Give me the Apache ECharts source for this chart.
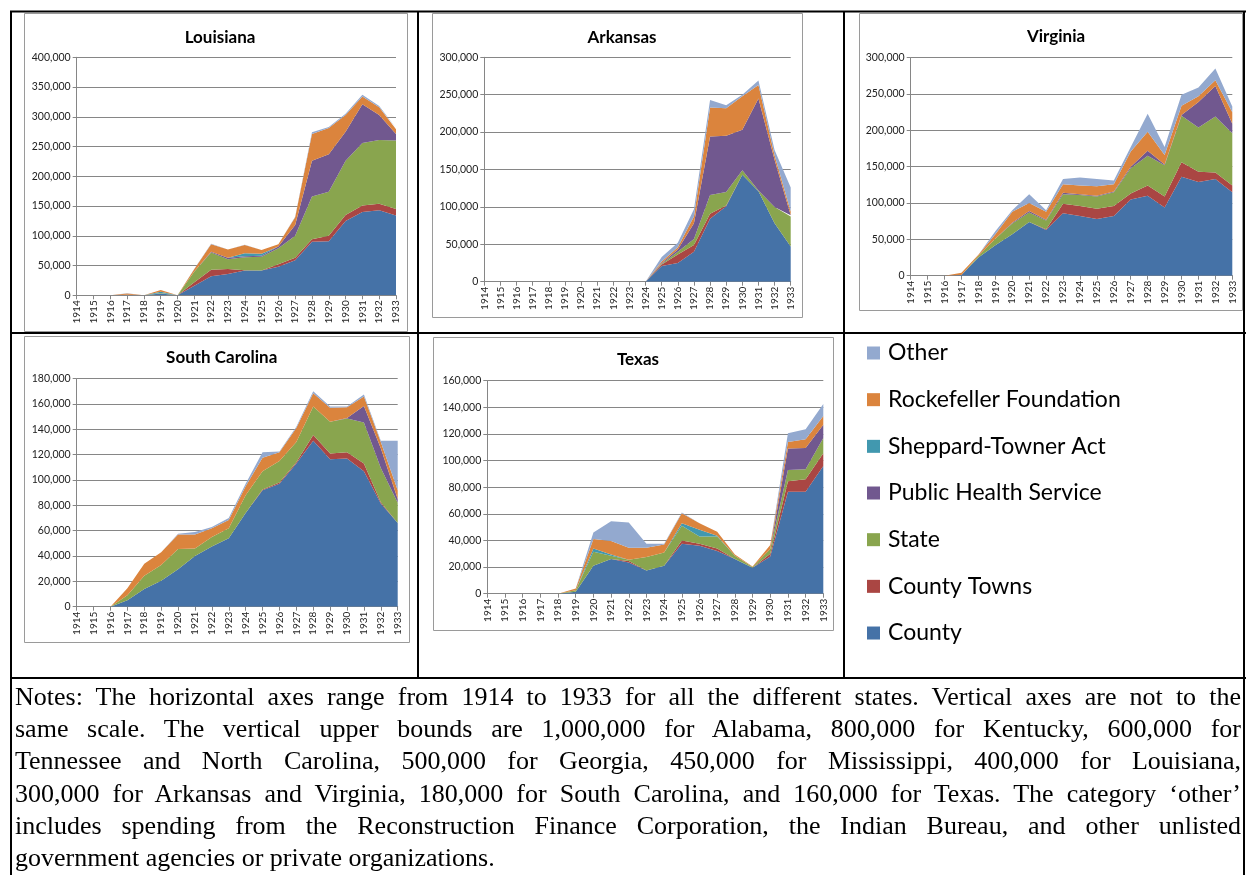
<!DOCTYPE html>
<html>
<head>
<meta charset="utf-8">
<script src="https://cdn.jsdelivr.net/npm/echarts@6/dist/echarts.min.js"></script>
<style>
  html, body { margin: 0; padding: 0; background: #fff; }
  #wrap { position: relative; width: 1246px; height: 875px; overflow: hidden; }
  #chart { position: absolute; left: 0; top: 0; width: 1246px; height: 875px; }
  #notes {
    position: absolute; left: 15px; top: 681px; width: 1226px;
    font-family: "Liberation Serif", serif; font-size: 26px; line-height: 32.2px; color: #000;
  }
  #notes div { text-align: justify; text-align-last: justify; white-space: nowrap; }
  #notes div.last { text-align-last: left; }
</style>
</head>
<body>
<div id="wrap">
  <div id="chart"></div>
  <div id="notes">
    <div>Notes: The horizontal axes range from 1914 to 1933 for all the different states. Vertical axes are not to the</div>
    <div>same scale. The vertical upper bounds are 1,000,000 for Alabama, 800,000 for Kentucky, 600,000 for</div>
    <div>Tennessee and North Carolina, 500,000 for Georgia, 450,000 for Mississippi, 400,000 for Louisiana,</div>
    <div>300,000 for Arkansas and Virginia, 180,000 for South Carolina, and 160,000 for Texas. The category ‘other’</div>
    <div>includes spending from the Reconstruction Finance Corporation, the Indian Bureau, and other unlisted</div>
    <div class="last">government agencies or private organizations.</div>
  </div>
</div>
<script>
// years on every horizontal axis
const years = ['1914', '1915', '1916', '1917', '1918', '1919', '1920', '1921', '1922', '1923',
  '1924', '1925', '1926', '1927', '1928', '1929', '1930', '1931', '1932', '1933'];

// stacking order, bottom to top
const sourceNames = ['County', 'County Towns', 'State', 'Public Health Service',
  'Sheppard-Towner Act', 'Rockefeller Foundation', 'Other'];
const sourceColors = ['#4572A7', '#AA4643', '#89A54E', '#71588F', '#4198AF', '#DB843D', '#93A9CF'];

// Louisiana
const laCounty = [0, 0, 0, 1000, 0, 3000, 0, 16000, 32000, 36000, 41500, 41500, 48000, 59000, 90000, 91000, 125000, 140000, 143000, 134000];
const laCountyTowns = [0, 0, 0, 0, 0, 0, 0, 6000, 11000, 8000, 500, 0, 4000, 4000, 4000, 9000, 10000, 11000, 11000, 11000];
const laState = [0, 0, 0, 0, 0, 1000, 0, 18000, 29000, 16500, 22000, 23500, 27000, 37000, 72000, 74000, 91000, 105000, 107000, 115000];
const laPHS = [0, 0, 0, 0, 0, 0, 0, 0, 1000, 2500, 1500, 1500, 3000, 18000, 60000, 63000, 49000, 65000, 42000, 11000];
const laSheppard = [0, 0, 0, 0, 0, 2000, 0, 0, 0, 0, 5000, 3500, 0, 0, 0, 0, 0, 0, 0, 0];
const laRockefeller = [0, 0, 0, 2000, 0, 3000, 0, 4000, 13000, 14000, 14000, 6000, 4000, 13000, 45000, 44000, 28000, 13000, 13000, 8000];
const laOther = [0, 0, 0, 500, 0, 0, 0, 500, 500, 0, 500, 0, 0, 1000, 3000, 2000, 2000, 3000, 2000, 2000];

// Arkansas
const arCounty = [0, 0, 0, 0, 0, 0, 0, 0, 0, 0, 0, 21000, 25000, 40000, 84000, 101000, 143000, 121000, 78000, 47000];
const arCountyTowns = [0, 0, 0, 0, 0, 0, 0, 0, 0, 0, 0, 2000, 11500, 9000, 7000, 1000, 0, 0, 0, 0];
const arState = [0, 0, 0, 0, 0, 0, 0, 0, 0, 0, 0, 1000, 3500, 8000, 25000, 18000, 6000, 1000, 22000, 40000];
const arPHS = [0, 0, 0, 0, 0, 0, 0, 0, 0, 0, 0, 1000, 3000, 21000, 78000, 75000, 54000, 123000, 63000, 2000];
const arSheppard = [0, 0, 0, 0, 0, 0, 0, 0, 0, 0, 0, 0, 0, 0, 0, 0, 0, 0, 0, 0];
const arRockefeller = [0, 0, 0, 0, 0, 0, 0, 0, 0, 0, 0, 2000, 3000, 9000, 39000, 37000, 45000, 18000, 6000, 5000];
const arOther = [0, 0, 0, 0, 0, 0, 0, 0, 0, 0, 0, 6000, 6000, 10000, 10000, 4000, 2000, 6000, 7000, 32000];

// Virginia
const vaCounty = [0, 0, 0, 1000, 25000, 42000, 57000, 74000, 63000, 86000, 82000, 78000, 82000, 105000, 110000, 94000, 136000, 129000, 133000, 115000];
const vaCountyTowns = [0, 0, 0, 0, 0, 0, 0, 0, 1000, 13000, 14000, 14000, 14000, 8000, 14000, 15000, 20000, 14000, 9000, 9000];
const vaState = [0, 0, 0, 0, 2000, 9000, 15000, 13000, 12000, 13000, 15000, 17000, 19000, 35000, 41000, 43000, 64000, 61000, 77000, 72000];
const vaPHS = [0, 0, 0, 0, 0, 0, 1000, 2000, 1000, 2000, 1000, 1000, 1000, 2000, 7000, 1000, 1000, 35000, 42000, 13000];
const vaSheppard = [0, 0, 0, 0, 0, 0, 0, 0, 0, 0, 0, 0, 0, 0, 0, 0, 0, 0, 0, 0];
const vaRockefeller = [0, 0, 0, 3000, 2000, 6000, 15000, 11000, 11000, 12000, 12000, 13000, 10000, 21000, 26000, 13000, 13000, 8000, 8000, 16000];
const vaOther = [0, 0, 0, 0, 0, 4000, 2000, 12000, 2000, 7000, 11000, 10000, 5000, 6000, 25000, 11000, 15000, 12000, 16000, 8000];

// South Carolina
const scCounty = [0, 0, 0, 5000, 14000, 20500, 29500, 40000, 47500, 54000, 74000, 92000, 97000, 113000, 131000, 116500, 117000, 107000, 81500, 66000];
const scCountyTowns = [0, 0, 0, 0, 0, 0, 0, 0, 0, 0, 0, 500, 1000, 1000, 4500, 4500, 5000, 6000, 1000, 0];
const scState = [0, 0, 0, 4000, 10500, 12500, 16000, 6000, 7500, 8000, 14000, 14500, 17000, 16000, 22500, 25000, 26500, 32500, 27000, 16000];
const scPHS = [0, 0, 0, 0, 0, 0, 0, 0, 0, 0, 0, 0, 0, 0, 0, 0, 500, 13000, 15500, 3000];
const scSheppard = [0, 0, 0, 0, 0, 0, 0, 0, 0, 0, 0, 0, 0, 0, 0, 0, 0, 0, 0, 0];
const scRockefeller = [0, 0, 0, 5500, 9500, 10000, 11500, 11000, 7000, 6500, 7000, 10500, 7000, 11000, 10500, 11000, 8500, 7500, 5000, 7000];
const scOther = [0, 0, 0, 0, 0, 0, 500, 2000, 1000, 1500, 2000, 4500, 500, 1000, 1500, 1000, 500, 1500, 1000, 39000];

// Texas
const txCounty = [0, 0, 0, 0, 0, 1500, 21000, 26000, 23500, 17500, 21000, 37500, 36000, 32000, 26000, 19500, 28000, 76500, 76500, 96000];
const txCountyTowns = [0, 0, 0, 0, 0, 0, 0, 0, 1000, 0, 0, 2500, 1500, 2000, 0, 0, 2000, 8000, 9500, 9500];
const txState = [0, 0, 0, 0, 0, 1000, 10500, 2500, 1000, 10000, 10000, 11000, 5500, 9000, 2500, 500, 3500, 8500, 7500, 11500];
const txPHS = [0, 0, 0, 0, 0, 0, 0, 0, 0, 0, 0, 0, 0, 0, 0, 0, 0, 16000, 16000, 10000];
const txSheppard = [0, 0, 0, 0, 0, 0, 2500, 1000, 0, 0, 0, 2000, 5000, 500, 0, 0, 0, 0, 0, 0];
const txRockefeller = [0, 0, 0, 0, 0, 1500, 7000, 10000, 9000, 7000, 6000, 7500, 5000, 3000, 1000, 500, 3000, 5000, 6500, 6500];
const txOther = [0, 0, 0, 0, 0, 0, 5000, 15000, 19000, 3000, 500, 500, 0, 0, 0, 0, 0, 6500, 7500, 9000];

const stateNames = ['Louisiana', 'Arkansas', 'Virginia', 'South Carolina', 'Texas'];
const axisMax = [400000, 300000, 300000, 180000, 160000];
const axisStep = [50000, 50000, 50000, 20000, 20000];

const stateData = [
  [laCounty, laCountyTowns, laState, laPHS, laSheppard, laRockefeller, laOther],
  [arCounty, arCountyTowns, arState, arPHS, arSheppard, arRockefeller, arOther],
  [vaCounty, vaCountyTowns, vaState, vaPHS, vaSheppard, vaRockefeller, vaOther],
  [scCounty, scCountyTowns, scState, scPHS, scSheppard, scRockefeller, scOther],
  [txCounty, txCountyTowns, txState, txPHS, txSheppard, txRockefeller, txOther]
];

// layout of each panel: plot box, frame box, title centre
const panels = [
  { grid: [76.7, 57.3, 319.3, 238], frame: [24, 13, 383, 318], title: [215, 34] },
  { grid: [484.3, 57.3, 306.4, 224.4], frame: [432, 13, 370, 304], title: [617, 34] },
  { grid: [910.7, 57.7, 321.6, 218], frame: [859, 13, 383, 297], title: [1051, 33] },
  { grid: [76.7, 378.7, 321, 228], frame: [24, 336, 385, 306], title: [216.7, 354] },
  { grid: [487.3, 380.7, 336, 213], frame: [433, 337, 400, 293], title: [633, 356] }
];

const font = 'Lato, "Open Sans", sans-serif';
const gray = '#868686';

const fmt = v => v.toString().replace(/\B(?=(\d{3})+(?!\d))/g, ',');

const titles = [], grids = [], xAxes = [], yAxes = [], series = [];
const graphics = [];

panels.forEach((p, i) => {
  titles.push({
    text: stateNames[i],
    left: p.title[0], top: p.title[1] - 10, textAlign: 'center',
    textStyle: { fontFamily: font, fontSize: 17, fontWeight: 'bold', color: '#000' }
  });
  grids.push({ left: p.grid[0], top: p.grid[1], width: p.grid[2], height: p.grid[3], containLabel: false });
  xAxes.push({
    type: 'category', gridIndex: i, data: years, boundaryGap: false,
    axisLine: { lineStyle: { color: gray, width: 1 } },
    axisTick: { show: true, length: 4, lineStyle: { color: gray } },
    axisLabel: { rotate: 90, interval: 0, fontFamily: font, fontSize: 10, color: '#222', margin: 5 }
  });
  yAxes.push({
    type: 'value', gridIndex: i, min: 0, max: axisMax[i], interval: axisStep[i],
    axisLine: { show: true, lineStyle: { color: gray, width: 1 } },
    axisTick: { show: true, length: 4, lineStyle: { color: gray } },
    splitLine: { lineStyle: { color: gray, width: 1 } },
    axisLabel: { fontFamily: font, fontSize: 10.5, color: '#222', margin: 6, formatter: fmt }
  });
  stateData[i].forEach((vals, k) => {
    series.push({
      name: sourceNames[k], type: 'line', xAxisIndex: i, yAxisIndex: i,
      stack: 'total' + i, data: vals, symbol: 'none', silent: true,
      lineStyle: { width: 0 }, itemStyle: { color: sourceColors[k] },
      areaStyle: { color: sourceColors[k], opacity: 1 }, z: 2
    });
  });
  graphics.push({
    type: 'rect', shape: { x: p.frame[0] + 0.5, y: p.frame[1] + 0.5, width: p.frame[2], height: p.frame[3] },
    style: { fill: null, stroke: '#9a9a9a', lineWidth: 1 }, z: 1
  });
});

// table rules
const rules = [
  [10, 11.5, 1246, 11.5], [11, 11, 11, 875], [418, 11, 418, 678], [844, 11, 844, 678],
  [10, 333, 1246, 333], [10, 678, 1246, 678], [1244, 11, 1244, 875]
];
rules.forEach(r => graphics.push({
  type: 'line', shape: { x1: r[0], y1: r[1], x2: r[2], y2: r[3] },
  style: { stroke: '#000', lineWidth: 2 }, z: 10
}));

const chart = echarts.init(document.getElementById('chart'), null, { renderer: 'canvas' });
chart.setOption({
  animation: false,
  backgroundColor: '#fff',
  title: titles,
  grid: grids,
  xAxis: xAxes,
  yAxis: yAxes,
  legend: {
    orient: 'vertical', left: 867, top: 341, padding: 0,
    data: sourceNames.slice().reverse(),
    icon: 'rect', itemWidth: 13, itemHeight: 13, itemGap: 22.67,
    selectedMode: false,
    textStyle: { fontFamily: font, fontSize: 23, lineHeight: 24, color: '#000', padding: [0, 0, 0, 3] }
  },
  graphic: graphics,
  series: series
});
</script>
</body>
</html>
